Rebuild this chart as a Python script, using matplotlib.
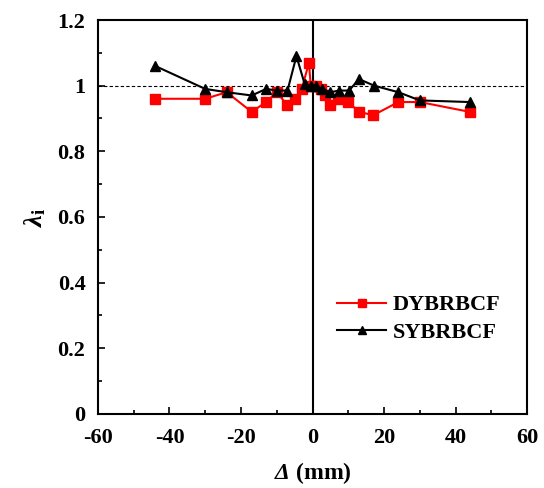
import matplotlib
matplotlib.use('Agg')
import matplotlib.pyplot as plt
from matplotlib.ticker import MultipleLocator

plt.rcParams['font.family'] = 'Liberation Serif'
plt.rcParams['font.weight'] = 'bold'
plt.rcParams['axes.unicode_minus'] = False
plt.rcParams['mathtext.fontset'] = 'custom'
plt.rcParams['mathtext.rm'] = 'Liberation Serif:italic:bold'
plt.rcParams['mathtext.it'] = 'Liberation Serif:italic:bold'
plt.rcParams['mathtext.bf'] = 'Liberation Serif:bold'

# DYBRBCF
dy_x = [-44, -30, -24, -17, -13, -10, -7, -5, -3, -1, -0.5, 1, 2.5, 3.5, 5, 7, 10, 13, 17, 24, 30, 44]
dy_y = [0.96, 0.96, 0.98, 0.92, 0.95, 0.98, 0.94, 0.96, 0.99, 1.07, 1.0, 1.0, 0.99, 0.97, 0.94, 0.96, 0.95, 0.92, 0.91, 0.95, 0.95, 0.92]

# SYBRBCF
sy_x = [-44, -30, -24, -17, -13, -10, -7, -4.5, -2.2, -0.5, 1, 2.7, 5, 7.4, 10.2, 13, 17.2, 24, 30, 44]
sy_y = [1.06, 0.99, 0.98, 0.97, 0.99, 0.985, 0.985, 1.09, 1.005, 1.0, 1.0, 0.99, 0.98, 0.985, 0.985, 1.02, 1.0, 0.98, 0.955, 0.95]

fig = plt.figure(figsize=(5.44, 4.88), dpi=100)
ax = fig.add_axes([0.180, 0.152, 0.789, 0.807])

ax.axhline(1, color='black', linestyle='--', linewidth=0.8, dashes=(3, 2))
ax.axvline(0, color='black', linewidth=1.5)

ax.plot(dy_x, dy_y, color='red', marker='s', markersize=6.5, linewidth=1.5, label='DYBRBCF')
ax.plot(sy_x, sy_y, color='black', marker='^', markersize=7, linewidth=1.5, label='SYBRBCF')

ax.set_xlim(-60, 60)
ax.set_ylim(0, 1.2)
ax.xaxis.set_major_locator(MultipleLocator(20))
ax.xaxis.set_minor_locator(MultipleLocator(10))
ax.yaxis.set_minor_locator(MultipleLocator(0.1))
ax.set_yticks([0, 0.2, 0.4, 0.6, 0.8, 1, 1.2])
ax.set_yticklabels(['0', '0.2', '0.4', '0.6', '0.8', '1', '1.2'])
ax.tick_params(which='both', direction='in', labelsize=16, width=1.2)
ax.tick_params(which='major', length=5)
ax.tick_params(axis='x', which='major', pad=10)
ax.tick_params(axis='y', which='major', pad=9)
ax.tick_params(which='minor', length=3)
for s in ax.spines.values():
    s.set_linewidth(1.5)

ax.set_xlabel(r'$\Delta$ (mm)', fontsize=17, fontweight='bold', labelpad=9)
ax.set_ylabel(r'$\mathit{\lambda}_\mathbf{i}$', fontsize=19, labelpad=7)

ax.legend(loc='lower right', bbox_to_anchor=(0.985, 0.13), frameon=False,
          prop={'size': 16, 'weight': 'bold'}, handlelength=2.2, handletextpad=0.3,
          labelspacing=0.3, markerscale=0.8)

fig.savefig('out.png', dpi=100)
